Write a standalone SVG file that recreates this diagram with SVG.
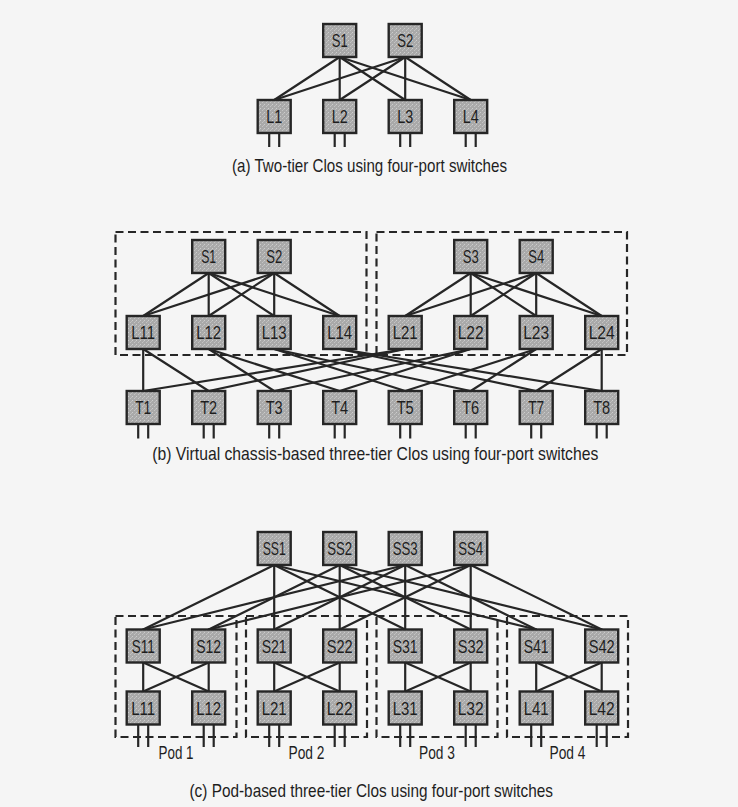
<svg xmlns="http://www.w3.org/2000/svg" width="738" height="807" viewBox="0 0 738 807">
<defs>
<pattern id="stip" width="4" height="4" patternUnits="userSpaceOnUse">
<rect width="4" height="4" fill="#a9a9a9"/>
<rect x="0" y="0" width="1" height="1" fill="#cdcdcd"/>
<rect x="2" y="2" width="1" height="1" fill="#c4c4c4"/>
<rect x="3" y="1" width="1" height="1" fill="#bdbdbd"/>
</pattern>
</defs>
<style>
.n rect{fill:url(#stip);stroke:#262626;stroke-width:2.4}
.n text{font-family:"Liberation Sans",Arial,sans-serif;font-size:19px;fill:#1e1e1e;text-anchor:middle}
.e line{stroke:#262626;stroke-width:2.2;stroke-linecap:round}
.h line{stroke:#262626;stroke-width:2.2}
.grp rect{fill:none;stroke:#262626;stroke-width:2.2;stroke-dasharray:8 4.5}
.cap{font-family:"Liberation Sans",Arial,sans-serif;font-size:19px;fill:#1e1e1e}
.pod{font-family:"Liberation Sans",Arial,sans-serif;font-size:19px;fill:#1e1e1e;text-anchor:middle}
</style>
<rect width="738" height="807" fill="#f5f5f5"/>

<!-- dashed groupings -->
<g id="groups" class="grp">
<rect x="115.5" y="232" width="251" height="123"/>
<rect x="376.5" y="232" width="250.5" height="123"/>
<rect x="115.5" y="616" width="121" height="121"/>
<rect x="246" y="616" width="121" height="121"/>
<rect x="376.5" y="616" width="121" height="121"/>
<rect x="507" y="616" width="121" height="121"/>
</g>

<g id="connectors">
<g class="e">
<!-- (a) -->
<line x1="339.7" y1="57" x2="274.2" y2="100"/>
<line x1="339.7" y1="57" x2="339.7" y2="100"/>
<line x1="339.7" y1="57" x2="405.2" y2="100"/>
<line x1="339.7" y1="57" x2="470.7" y2="100"/>
<line x1="405.2" y1="57" x2="274.2" y2="100"/>
<line x1="405.2" y1="57" x2="339.7" y2="100"/>
<line x1="405.2" y1="57" x2="405.2" y2="100"/>
<line x1="405.2" y1="57" x2="470.7" y2="100"/>
<!-- (b) spine-leaf -->
<line x1="208.7" y1="273" x2="143.2" y2="316"/>
<line x1="208.7" y1="273" x2="208.7" y2="316"/>
<line x1="208.7" y1="273" x2="274.2" y2="316"/>
<line x1="208.7" y1="273" x2="339.7" y2="316"/>
<line x1="274.2" y1="273" x2="143.2" y2="316"/>
<line x1="274.2" y1="273" x2="208.7" y2="316"/>
<line x1="274.2" y1="273" x2="274.2" y2="316"/>
<line x1="274.2" y1="273" x2="339.7" y2="316"/>
<line x1="470.7" y1="273" x2="405.2" y2="316"/>
<line x1="470.7" y1="273" x2="470.7" y2="316"/>
<line x1="470.7" y1="273" x2="536.2" y2="316"/>
<line x1="470.7" y1="273" x2="601.7" y2="316"/>
<line x1="536.2" y1="273" x2="405.2" y2="316"/>
<line x1="536.2" y1="273" x2="470.7" y2="316"/>
<line x1="536.2" y1="273" x2="536.2" y2="316"/>
<line x1="536.2" y1="273" x2="601.7" y2="316"/>
<!-- (b) leaf-tor -->
<line x1="143.2" y1="349" x2="143.2" y2="391"/>
<line x1="143.2" y1="349" x2="208.7" y2="391"/>
<line x1="208.7" y1="349" x2="274.2" y2="391"/>
<line x1="208.7" y1="349" x2="339.7" y2="391"/>
<line x1="274.2" y1="349" x2="405.2" y2="391"/>
<line x1="274.2" y1="349" x2="470.7" y2="391"/>
<line x1="339.7" y1="349" x2="536.2" y2="391"/>
<line x1="339.7" y1="349" x2="601.7" y2="391"/>
<line x1="405.2" y1="349" x2="143.2" y2="391"/>
<line x1="405.2" y1="349" x2="208.7" y2="391"/>
<line x1="470.7" y1="349" x2="274.2" y2="391"/>
<line x1="470.7" y1="349" x2="339.7" y2="391"/>
<line x1="536.2" y1="349" x2="405.2" y2="391"/>
<line x1="536.2" y1="349" x2="470.7" y2="391"/>
<line x1="601.7" y1="349" x2="536.2" y2="391"/>
<line x1="601.7" y1="349" x2="601.7" y2="391"/>
<!-- (c) super-spine to spine -->
<line x1="274.2" y1="565" x2="143.2" y2="629.5"/>
<line x1="274.2" y1="565" x2="274.2" y2="629.5"/>
<line x1="274.2" y1="565" x2="405.2" y2="629.5"/>
<line x1="274.2" y1="565" x2="536.2" y2="629.5"/>
<line x1="405.2" y1="565" x2="143.2" y2="629.5"/>
<line x1="405.2" y1="565" x2="274.2" y2="629.5"/>
<line x1="405.2" y1="565" x2="405.2" y2="629.5"/>
<line x1="405.2" y1="565" x2="536.2" y2="629.5"/>
<line x1="339.7" y1="565" x2="208.7" y2="629.5"/>
<line x1="339.7" y1="565" x2="339.7" y2="629.5"/>
<line x1="339.7" y1="565" x2="470.7" y2="629.5"/>
<line x1="339.7" y1="565" x2="601.7" y2="629.5"/>
<line x1="470.7" y1="565" x2="208.7" y2="629.5"/>
<line x1="470.7" y1="565" x2="339.7" y2="629.5"/>
<line x1="470.7" y1="565" x2="470.7" y2="629.5"/>
<line x1="470.7" y1="565" x2="601.7" y2="629.5"/>
<!-- (c) pod spine-leaf -->
<line x1="143.2" y1="662.5" x2="143.2" y2="691.5"/>
<line x1="143.2" y1="662.5" x2="208.7" y2="691.5"/>
<line x1="208.7" y1="662.5" x2="143.2" y2="691.5"/>
<line x1="208.7" y1="662.5" x2="208.7" y2="691.5"/>
<line x1="274.2" y1="662.5" x2="274.2" y2="691.5"/>
<line x1="274.2" y1="662.5" x2="339.7" y2="691.5"/>
<line x1="339.7" y1="662.5" x2="274.2" y2="691.5"/>
<line x1="339.7" y1="662.5" x2="339.7" y2="691.5"/>
<line x1="405.2" y1="662.5" x2="405.2" y2="691.5"/>
<line x1="405.2" y1="662.5" x2="470.7" y2="691.5"/>
<line x1="470.7" y1="662.5" x2="405.2" y2="691.5"/>
<line x1="470.7" y1="662.5" x2="470.7" y2="691.5"/>
<line x1="536.2" y1="662.5" x2="536.2" y2="691.5"/>
<line x1="536.2" y1="662.5" x2="601.7" y2="691.5"/>
<line x1="601.7" y1="662.5" x2="536.2" y2="691.5"/>
<line x1="601.7" y1="662.5" x2="601.7" y2="691.5"/>
</g>
<g class="h">
<!-- (a) host links -->
<line x1="269.2" y1="133" x2="269.2" y2="147"/><line x1="279.2" y1="133" x2="279.2" y2="147"/>
<line x1="334.7" y1="133" x2="334.7" y2="147"/><line x1="344.7" y1="133" x2="344.7" y2="147"/>
<line x1="400.2" y1="133" x2="400.2" y2="147"/><line x1="410.2" y1="133" x2="410.2" y2="147"/>
<line x1="465.7" y1="133" x2="465.7" y2="147"/><line x1="475.7" y1="133" x2="475.7" y2="147"/>
<!-- (b) host links -->
<line x1="138.2" y1="424" x2="138.2" y2="438.5"/><line x1="148.2" y1="424" x2="148.2" y2="438.5"/>
<line x1="203.7" y1="424" x2="203.7" y2="438.5"/><line x1="213.7" y1="424" x2="213.7" y2="438.5"/>
<line x1="269.2" y1="424" x2="269.2" y2="438.5"/><line x1="279.2" y1="424" x2="279.2" y2="438.5"/>
<line x1="334.7" y1="424" x2="334.7" y2="438.5"/><line x1="344.7" y1="424" x2="344.7" y2="438.5"/>
<line x1="400.2" y1="424" x2="400.2" y2="438.5"/><line x1="410.2" y1="424" x2="410.2" y2="438.5"/>
<line x1="465.7" y1="424" x2="465.7" y2="438.5"/><line x1="475.7" y1="424" x2="475.7" y2="438.5"/>
<line x1="531.2" y1="424" x2="531.2" y2="438.5"/><line x1="541.2" y1="424" x2="541.2" y2="438.5"/>
<line x1="596.7" y1="424" x2="596.7" y2="438.5"/><line x1="606.7" y1="424" x2="606.7" y2="438.5"/>
<!-- (c) host links -->
<line x1="138.2" y1="724.5" x2="138.2" y2="747"/><line x1="148.2" y1="724.5" x2="148.2" y2="747"/>
<line x1="203.7" y1="724.5" x2="203.7" y2="747"/><line x1="213.7" y1="724.5" x2="213.7" y2="747"/>
<line x1="269.2" y1="724.5" x2="269.2" y2="747"/><line x1="279.2" y1="724.5" x2="279.2" y2="747"/>
<line x1="334.7" y1="724.5" x2="334.7" y2="747"/><line x1="344.7" y1="724.5" x2="344.7" y2="747"/>
<line x1="400.2" y1="724.5" x2="400.2" y2="747"/><line x1="410.2" y1="724.5" x2="410.2" y2="747"/>
<line x1="465.7" y1="724.5" x2="465.7" y2="747"/><line x1="475.7" y1="724.5" x2="475.7" y2="747"/>
<line x1="531.2" y1="724.5" x2="531.2" y2="747"/><line x1="541.2" y1="724.5" x2="541.2" y2="747"/>
<line x1="596.7" y1="724.5" x2="596.7" y2="747"/><line x1="606.7" y1="724.5" x2="606.7" y2="747"/>
</g>
</g>

<!-- (a) nodes -->
<g id="a-S1" class="n"><rect x="323.2" y="24" width="33" height="33"/><text x="339.7" y="47.3" textLength="16" lengthAdjust="spacingAndGlyphs">S1</text></g>
<g id="a-S2" class="n"><rect x="388.7" y="24" width="33" height="33"/><text x="405.2" y="47.3" textLength="16" lengthAdjust="spacingAndGlyphs">S2</text></g>
<g id="a-L1" class="n"><rect x="257.7" y="100" width="33" height="33"/><text x="274.2" y="123.3" textLength="16" lengthAdjust="spacingAndGlyphs">L1</text></g>
<g id="a-L2" class="n"><rect x="323.2" y="100" width="33" height="33"/><text x="339.7" y="123.3" textLength="16" lengthAdjust="spacingAndGlyphs">L2</text></g>
<g id="a-L3" class="n"><rect x="388.7" y="100" width="33" height="33"/><text x="405.2" y="123.3" textLength="16" lengthAdjust="spacingAndGlyphs">L3</text></g>
<g id="a-L4" class="n"><rect x="454.2" y="100" width="33" height="33"/><text x="470.7" y="123.3" textLength="16" lengthAdjust="spacingAndGlyphs">L4</text></g>
<text class="cap" x="232" y="171.5" textLength="275" lengthAdjust="spacingAndGlyphs">(a) Two-tier Clos using four-port switches</text>

<!-- (b) nodes -->
<g id="b-S1" class="n"><rect x="192.2" y="240" width="33" height="33"/><text x="208.7" y="263.3" textLength="15" lengthAdjust="spacingAndGlyphs">S1</text></g>
<g id="b-S2" class="n"><rect x="257.7" y="240" width="33" height="33"/><text x="274.2" y="263.3" textLength="16" lengthAdjust="spacingAndGlyphs">S2</text></g>
<g id="b-S3" class="n"><rect x="454.2" y="240" width="33" height="33"/><text x="470.7" y="263.3" textLength="16" lengthAdjust="spacingAndGlyphs">S3</text></g>
<g id="b-S4" class="n"><rect x="519.7" y="240" width="33" height="33"/><text x="536.2" y="263.3" textLength="16" lengthAdjust="spacingAndGlyphs">S4</text></g>
<g id="b-L11" class="n"><rect x="126.7" y="316" width="33" height="33"/><text x="143.2" y="339.3" textLength="24" lengthAdjust="spacingAndGlyphs">L11</text></g>
<g id="b-L12" class="n"><rect x="192.2" y="316" width="33" height="33"/><text x="208.7" y="339.3" textLength="25" lengthAdjust="spacingAndGlyphs">L12</text></g>
<g id="b-L13" class="n"><rect x="257.7" y="316" width="33" height="33"/><text x="274.2" y="339.3" textLength="25" lengthAdjust="spacingAndGlyphs">L13</text></g>
<g id="b-L14" class="n"><rect x="323.2" y="316" width="33" height="33"/><text x="339.7" y="339.3" textLength="25" lengthAdjust="spacingAndGlyphs">L14</text></g>
<g id="b-L21" class="n"><rect x="388.7" y="316" width="33" height="33"/><text x="405.2" y="339.3" textLength="25" lengthAdjust="spacingAndGlyphs">L21</text></g>
<g id="b-L22" class="n"><rect x="454.2" y="316" width="33" height="33"/><text x="470.7" y="339.3" textLength="26" lengthAdjust="spacingAndGlyphs">L22</text></g>
<g id="b-L23" class="n"><rect x="519.7" y="316" width="33" height="33"/><text x="536.2" y="339.3" textLength="26" lengthAdjust="spacingAndGlyphs">L23</text></g>
<g id="b-L24" class="n"><rect x="585.2" y="316" width="33" height="33"/><text x="601.7" y="339.3" textLength="26" lengthAdjust="spacingAndGlyphs">L24</text></g>
<g id="b-T1" class="n"><rect x="126.7" y="391" width="33" height="33"/><text x="143.2" y="414.3" textLength="16" lengthAdjust="spacingAndGlyphs">T1</text></g>
<g id="b-T2" class="n"><rect x="192.2" y="391" width="33" height="33"/><text x="208.7" y="414.3" textLength="17" lengthAdjust="spacingAndGlyphs">T2</text></g>
<g id="b-T3" class="n"><rect x="257.7" y="391" width="33" height="33"/><text x="274.2" y="414.3" textLength="17" lengthAdjust="spacingAndGlyphs">T3</text></g>
<g id="b-T4" class="n"><rect x="323.2" y="391" width="33" height="33"/><text x="339.7" y="414.3" textLength="17" lengthAdjust="spacingAndGlyphs">T4</text></g>
<g id="b-T5" class="n"><rect x="388.7" y="391" width="33" height="33"/><text x="405.2" y="414.3" textLength="17" lengthAdjust="spacingAndGlyphs">T5</text></g>
<g id="b-T6" class="n"><rect x="454.2" y="391" width="33" height="33"/><text x="470.7" y="414.3" textLength="17" lengthAdjust="spacingAndGlyphs">T6</text></g>
<g id="b-T7" class="n"><rect x="519.7" y="391" width="33" height="33"/><text x="536.2" y="414.3" textLength="16" lengthAdjust="spacingAndGlyphs">T7</text></g>
<g id="b-T8" class="n"><rect x="585.2" y="391" width="33" height="33"/><text x="601.7" y="414.3" textLength="17" lengthAdjust="spacingAndGlyphs">T8</text></g>
<text class="cap" x="152.3" y="460" textLength="446" lengthAdjust="spacingAndGlyphs">(b) Virtual chassis-based three-tier Clos using four-port switches</text>

<!-- (c) nodes -->
<g id="c-SS1" class="n"><rect x="257.7" y="532" width="33" height="33"/><text x="274.2" y="555.3" textLength="23" lengthAdjust="spacingAndGlyphs">SS1</text></g>
<g id="c-SS2" class="n"><rect x="323.2" y="532" width="33" height="33"/><text x="339.7" y="555.3" textLength="25" lengthAdjust="spacingAndGlyphs">SS2</text></g>
<g id="c-SS3" class="n"><rect x="388.7" y="532" width="33" height="33"/><text x="405.2" y="555.3" textLength="25" lengthAdjust="spacingAndGlyphs">SS3</text></g>
<g id="c-SS4" class="n"><rect x="454.2" y="532" width="33" height="33"/><text x="470.7" y="555.3" textLength="25" lengthAdjust="spacingAndGlyphs">SS4</text></g>
<g id="c-S11" class="n"><rect x="126.7" y="629.5" width="33" height="33"/><text x="143.2" y="652.8" textLength="23" lengthAdjust="spacingAndGlyphs">S11</text></g>
<g id="c-S12" class="n"><rect x="192.2" y="629.5" width="33" height="33"/><text x="208.7" y="652.8" textLength="25" lengthAdjust="spacingAndGlyphs">S12</text></g>
<g id="c-S21" class="n"><rect x="257.7" y="629.5" width="33" height="33"/><text x="274.2" y="652.8" textLength="25" lengthAdjust="spacingAndGlyphs">S21</text></g>
<g id="c-S22" class="n"><rect x="323.2" y="629.5" width="33" height="33"/><text x="339.7" y="652.8" textLength="26" lengthAdjust="spacingAndGlyphs">S22</text></g>
<g id="c-S31" class="n"><rect x="388.7" y="629.5" width="33" height="33"/><text x="405.2" y="652.8" textLength="25" lengthAdjust="spacingAndGlyphs">S31</text></g>
<g id="c-S32" class="n"><rect x="454.2" y="629.5" width="33" height="33"/><text x="470.7" y="652.8" textLength="26" lengthAdjust="spacingAndGlyphs">S32</text></g>
<g id="c-S41" class="n"><rect x="519.7" y="629.5" width="33" height="33"/><text x="536.2" y="652.8" textLength="25" lengthAdjust="spacingAndGlyphs">S41</text></g>
<g id="c-S42" class="n"><rect x="585.2" y="629.5" width="33" height="33"/><text x="601.7" y="652.8" textLength="26" lengthAdjust="spacingAndGlyphs">S42</text></g>
<g id="c-L11" class="n"><rect x="126.7" y="691.5" width="33" height="33"/><text x="143.2" y="714.8" textLength="24" lengthAdjust="spacingAndGlyphs">L11</text></g>
<g id="c-L12" class="n"><rect x="192.2" y="691.5" width="33" height="33"/><text x="208.7" y="714.8" textLength="25" lengthAdjust="spacingAndGlyphs">L12</text></g>
<g id="c-L21" class="n"><rect x="257.7" y="691.5" width="33" height="33"/><text x="274.2" y="714.8" textLength="25" lengthAdjust="spacingAndGlyphs">L21</text></g>
<g id="c-L22" class="n"><rect x="323.2" y="691.5" width="33" height="33"/><text x="339.7" y="714.8" textLength="26" lengthAdjust="spacingAndGlyphs">L22</text></g>
<g id="c-L31" class="n"><rect x="388.7" y="691.5" width="33" height="33"/><text x="405.2" y="714.8" textLength="25" lengthAdjust="spacingAndGlyphs">L31</text></g>
<g id="c-L32" class="n"><rect x="454.2" y="691.5" width="33" height="33"/><text x="470.7" y="714.8" textLength="26" lengthAdjust="spacingAndGlyphs">L32</text></g>
<g id="c-L41" class="n"><rect x="519.7" y="691.5" width="33" height="33"/><text x="536.2" y="714.8" textLength="25" lengthAdjust="spacingAndGlyphs">L41</text></g>
<g id="c-L42" class="n"><rect x="585.2" y="691.5" width="33" height="33"/><text x="601.7" y="714.8" textLength="26" lengthAdjust="spacingAndGlyphs">L42</text></g>

<g id="pod-labels">
<text class="pod" x="176" y="758.5" textLength="35" lengthAdjust="spacingAndGlyphs">Pod 1</text>
<text class="pod" x="306.5" y="758.5" textLength="36" lengthAdjust="spacingAndGlyphs">Pod 2</text>
<text class="pod" x="437" y="758.5" textLength="36" lengthAdjust="spacingAndGlyphs">Pod 3</text>
<text class="pod" x="567.5" y="758.5" textLength="36" lengthAdjust="spacingAndGlyphs">Pod 4</text>
</g>
<text class="cap" x="189.5" y="797" textLength="363.5" lengthAdjust="spacingAndGlyphs">(c) Pod-based three-tier Clos using four-port switches</text>
</svg>
